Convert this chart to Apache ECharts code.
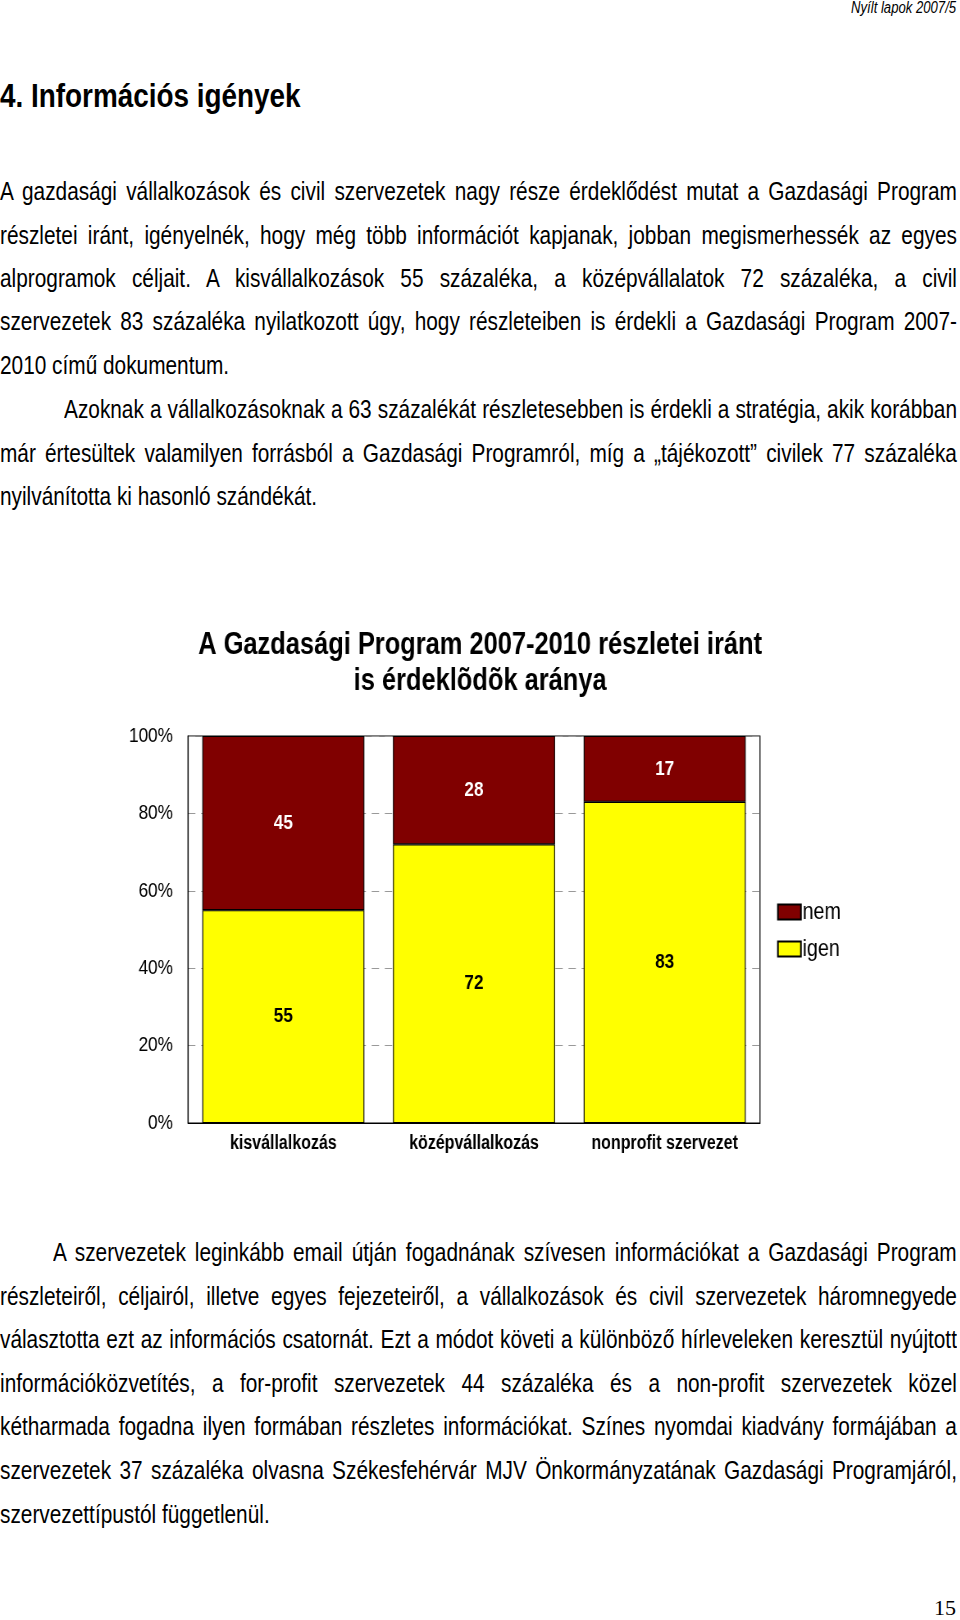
<!DOCTYPE html>
<html>
<head>
<meta charset="utf-8">
<script src="https://cdn.jsdelivr.net/npm/echarts@6/dist/echarts.min.js"></script>
<style>
  html, body { margin: 0; padding: 0; background: #fff; }
  body { width: 960px; height: 1620px; position: relative; overflow: hidden;
         font-family: "Liberation Sans", Arial, sans-serif; color: #000; }
  .ln { position: absolute; left: 0; width: 1167px; height: 30px; line-height: 30px; font-size: 25.4px;
        white-space: nowrap; text-align: justify; text-align-last: justify;
        transform: scaleX(0.82); transform-origin: 0 0; }
  .ln.last { text-align: left; text-align-last: left; }
  #hdr { position: absolute; right: 4px; top: -2px; font-size: 16px; font-style: italic; line-height: 20px;
         transform: scaleX(0.82); transform-origin: 100% 0; }
  #h1 { position: absolute; left: 0; top: 75px; font-size: 34px; font-weight: bold; line-height: 40px; white-space: nowrap;
        transform: scaleX(0.82); transform-origin: 0 0; }
  #pg { position: absolute; right: 4px; top: 1594px; font-family: "Liberation Serif", "Times New Roman", serif; font-size: 22px; line-height: 28px; }
  #chart { position: absolute; left: 0; top: 590px; width: 1171px; height: 580px;
           transform: scaleX(0.82); transform-origin: 0 0; }
</style>
</head>
<body>
<div id="hdr">Nyílt lapok 2007/5</div>
<div id="h1">4. Információs igények</div>

<div class="ln" style="top:176px">A gazdasági vállalkozások és civil szervezetek nagy része érdeklődést mutat a Gazdasági Program</div>
<div class="ln" style="top:220px">részletei iránt, igényelnék, hogy még több információt kapjanak, jobban megismerhessék az egyes</div>
<div class="ln" style="top:263px">alprogramok céljait. A kisvállalkozások 55 százaléka, a középvállalatok 72 százaléka, a civil</div>
<div class="ln" style="top:306px">szervezetek 83 százaléka nyilatkozott úgy, hogy részleteiben is érdekli a Gazdasági Program 2007-</div>
<div class="ln last" style="top:350px">2010 című dokumentum.</div>

<div class="ln" style="top:394px;left:64px;width:1089px">Azoknak a vállalkozásoknak a 63 százalékát részletesebben is érdekli a stratégia, akik korábban</div>
<div class="ln" style="top:438px">már értesültek valamilyen forrásból a Gazdasági Programról, míg a „tájékozott” civilek 77 százaléka</div>
<div class="ln last" style="top:481px">nyilvánította ki hasonló szándékát.</div>

<div id="chart"></div>

<div class="ln" style="top:1237px;left:53px;width:1102px">A szervezetek leginkább email útján fogadnának szívesen információkat a Gazdasági Program</div>
<div class="ln" style="top:1281px">részleteiről, céljairól, illetve egyes fejezeteiről, a vállalkozások és civil szervezetek háromnegyede</div>
<div class="ln" style="top:1324px">választotta ezt az információs csatornát. Ezt a módot követi a különböző hírleveleken keresztül nyújtott</div>
<div class="ln" style="top:1368px">információközvetítés, a for-profit szervezetek 44 százaléka és a non-profit szervezetek közel</div>
<div class="ln" style="top:1411px">kétharmada fogadna ilyen formában részletes információkat. Színes nyomdai kiadvány formájában a</div>
<div class="ln" style="top:1455px">szervezetek 37 százaléka olvasna Székesfehérvár MJV Önkormányzatának Gazdasági Programjáról,</div>
<div class="ln last" style="top:1499px">szervezettípustól függetlenül.</div>

<div id="pg">15</div>

<script>
const categories = ['kisvállalkozás', 'középvállalkozás', 'nonprofit szervezet'];
const igenValues = [55, 72, 83];
const nemValues = [45, 28, 17];
const seriesNames = ['igen', 'nem'];
const yTickLabels = ['0%', '20%', '40%', '60%', '80%', '100%'];
const chartTitle = 'A Gazdasági Program 2007-2010 részletei iránt\nis érdeklõdõk aránya';

const S = 0.82; // horizontal condensing of the chart container (narrow font look)
const FONT = '"Liberation Sans", Arial, sans-serif';
const chart = echarts.init(document.getElementById('chart'), null, { renderer: 'canvas' });
chart.setOption({
  animation: false,
  backgroundColor: '#fff',
  textStyle: { fontFamily: FONT, color: '#000' },
  title: {
    text: chartTitle,
    left: 'center',
    top: 32,
    textStyle: { fontFamily: FONT, fontSize: 31, fontWeight: 'bold', lineHeight: 36, color: '#000' }
  },
  legend: {
    orient: 'vertical',
    left: 773 / S,
    top: 305,
    data: ['nem', 'igen'],
    itemWidth: 23 / S,
    itemHeight: 15,
    itemGap: 13,
    icon: 'rect',
    textStyle: { fontFamily: FONT, fontSize: 24, color: '#000', padding: [0, 0, 0, -3] }
  },
  grid: {
    left: 188 / S, right: 1171 - 760 / S, top: 146, bottom: 47,
    show: true, borderColor: '#000', borderWidth: 1.2, backgroundColor: '#fff'
  },
  xAxis: {
    type: 'category',
    data: categories,
    axisTick: { show: false },
    axisLine: { lineStyle: { color: '#000', width: 1 } },
    axisLabel: { interval: 0, fontFamily: FONT, fontSize: 19.5, fontWeight: 'bold', color: '#000', margin: 11 }
  },
  yAxis: {
    type: 'value',
    min: 0, max: 100, interval: 20,
    axisLine: { show: true, lineStyle: { color: '#000', width: 1.2 } },
    axisTick: { show: false },
    axisLabel: {
      formatter: function (v) { return yTickLabels[Math.round(v / 20)]; },
      fontFamily: FONT, fontSize: 21, color: '#000', margin: 15 / S
    },
    splitLine: { show: true, lineStyle: { color: '#999', type: [9, 7], width: 1 } }
  },
  series: [
    {
      name: seriesNames[0], type: 'bar', stack: 'total', data: igenValues,
      barCategoryGap: '15%',
      itemStyle: { color: '#FFFF00', borderColor: '#000', borderWidth: 1.1 },
      label: { show: true, position: 'inside', fontFamily: FONT, fontSize: 21, fontWeight: 'bold', color: '#000' }
    },
    {
      name: seriesNames[1], type: 'bar', stack: 'total', data: nemValues,
      barCategoryGap: '15%',
      itemStyle: { color: '#800000', borderColor: '#000', borderWidth: 1.1 },
      label: { show: true, position: 'inside', fontFamily: FONT, fontSize: 21, fontWeight: 'bold', color: '#fff' }
    }
  ]
});
</script>
</body>
</html>
